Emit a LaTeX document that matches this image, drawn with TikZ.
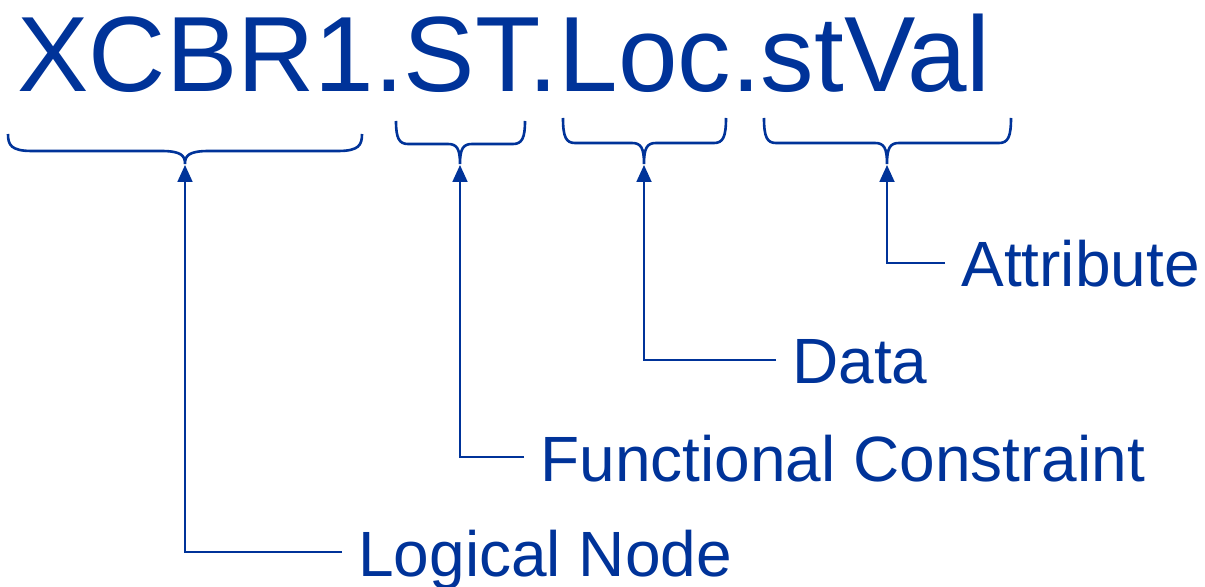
\documentclass[tikz,border=0pt]{standalone}
\usepackage{fontspec}
\setmainfont{Liberation Sans}
\definecolor{IecBlue}{HTML}{003399}
\usepackage{tikz}
\usetikzlibrary{arrows.meta}

% brace under a part of the name: left, right, centre, top, middle, corner, tip name
\newcommand{\namebrace}[7]{%
  \draw[brc] (#1,#4) .. controls (#1,{#5-6}) and ({#1+3},#5) .. ({#1+#6},#5)
    -- ({#3-#6},#5) .. controls ({#3-3},#5) and (#3,{#5+5}) .. (#3,164)
    .. controls (#3,{#5+5}) and ({#3+3},#5) .. ({#3+#6},#5)
    -- ({#2-#6},#5) .. controls ({#2-3},#5) and (#2,{#5-6}) .. (#2,#4);
  \coordinate (#7) at (#3,165);}

\begin{document}
\begin{tikzpicture}[
    x=0.5pt, y=-0.5pt,
    title/.style={anchor=base west, inner sep=0pt, text=IecBlue,
      font=\fontsize{53.5}{60}\selectfont},
    lbl/.style={anchor=west, inner xsep=8pt, inner ysep=0pt, text=IecBlue,
      text height=24pt, text depth=0pt, font=\fontsize{32}{38}\selectfont},
    brc/.style={draw=IecBlue, line width=1.3pt},
    arr/.style={-{Triangle[length=8.5pt, width=7.5pt]}, line width=0.9pt, IecBlue}
  ]
    \useasboundingbox (0,0) rectangle (1205,587);
    \node[title] (name) at (17,92) {XCBR1.ST.Loc.stVal};
    \namebrace{8}{362}{185}{134}{151}{24}{lnTip}
    \namebrace{396}{525}{460}{121}{144}{12}{fcTip}
    \namebrace{563}{726}{644}{118}{143}{12}{dataTip}
    \namebrace{764}{1011}{887}{118}{143}{12}{attrTip}
    \node[lbl] (attr) at (945,263) {Attribute};
    \node[lbl] (data) at (776,360) {Data};
    \node[lbl] (fc) at (524,457) {Functional Constraint};
    \node[lbl] (ln) at (342,552) {Logical Node};
    \draw[arr] (attr.west) -| (attrTip);
    \draw[arr] (data.west) -| (dataTip);
    \draw[arr] (fc.west) -| (fcTip);
    \draw[arr] (ln.west) -| (lnTip);
  \end{tikzpicture}
\end{document}
